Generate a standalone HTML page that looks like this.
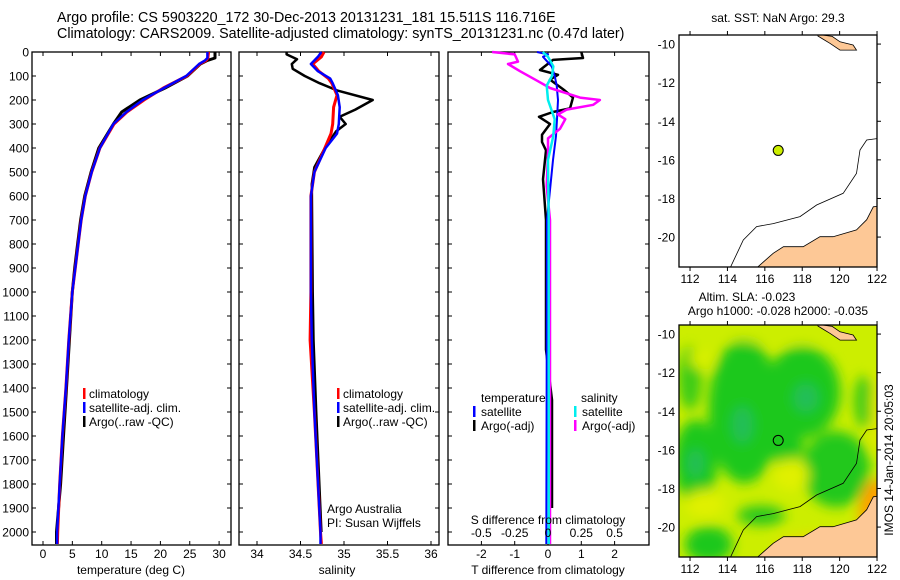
<!DOCTYPE html>
<html><head><meta charset="utf-8"><style>
html,body{margin:0;padding:0;background:#fff;}
svg{display:block;font-family:"Liberation Sans",sans-serif;}
</style></head><body>
<svg id="c" width="900" height="580" viewBox="0 0 900 580" xmlns="http://www.w3.org/2000/svg">
<defs>
<filter id="blur" x="-50%" y="-50%" width="200%" height="200%"><feGaussianBlur stdDeviation="6"/></filter>
<clipPath id="m1clip"><rect x="679" y="35" width="198" height="232"/></clipPath>
<clipPath id="m2clip"><rect x="679" y="325" width="198" height="232"/></clipPath>
</defs>
<text x="57" y="22" font-size="14.3">Argo profile: CS 5903220_172 30-Dec-2013 20131231_181 15.511S 116.716E</text>
<text x="57" y="38" font-size="14.3">Climatology: CARS2009. Satellite-adjusted climatology: synTS_20131231.nc (0.47d later)</text>
<g id="g"></g>
</svg>
<script>
// ---- data ----
const tDepth=[0,25,35,50,100,150,200,250,300,400,500,600,700,800,900,1000,1200,1400,1600,1800,2000,2050];
const tempClim=[28.2,28.1,27.8,26.7,24.5,20.5,17.2,14.3,12.1,9.7,8.3,7.2,6.5,6.0,5.5,5.0,4.4,3.9,3.3,2.85,2.5,2.45];
const tempSat=[28.0,28.0,27.6,26.6,24.4,20.6,17.0,14.2,12.0,9.7,8.3,7.2,6.5,6.0,5.5,5.0,4.4,3.9,3.3,2.85,2.4,2.4];
const tempArgo=[29.3,29.3,28.0,26.8,24.6,20.8,16.5,13.4,12.0,9.5,8.2,7.1,6.4,5.9,5.4,5.0,4.5,4.0,3.5,3.0,2.3,2.3];
const sDepthArgo=[0,10,30,50,70,100,130,160,200,240,270,300,330,400,480,550,1000,1200,1500,2000];
const salArgo=[34.34,34.34,34.46,34.40,34.41,34.55,34.72,34.92,35.33,35.13,34.95,35.02,34.91,34.78,34.66,34.63,34.64,34.65,34.68,34.74];
const sDepthClim=[0,20,50,80,110,130,180,230,300,340,400,500,600,1000,1200,1500,2000,2050];
const salSat=[34.74,34.70,34.62,34.70,34.84,34.87,34.93,34.95,34.94,34.92,34.79,34.66,34.62,34.62,34.63,34.66,34.73,34.73];
const salClim=[34.77,34.74,34.64,34.71,34.82,34.86,34.92,34.88,34.87,34.85,34.78,34.66,34.62,34.62,34.61,34.66,34.73,34.74];
const dDepthT=[0,25,33,75,95,115,160,190,235,250,270,300,345,375,410,530,700,1240,1450,1900];
const dTArgo=[1.0,1.05,0.15,-0.24,0.3,0.06,0.5,0.75,0.66,0.15,-0.27,0.06,-0.18,-0.18,-0.06,-0.15,-0.06,-0.06,0.12,0.12];
const dDepthS=[0,10,20,60,100,140,200,280,350,450,700,2050];
const dTSat=[-0.33,0,-0.15,0.11,0.2,0.26,0.3,0.27,0.24,0.15,-0.03,-0.05];
const dSSatDepth=[0,20,60,100,140,200,280,350,450,700,2050];
const dSSat=[-0.04,0,0.04,0.03,-0.01,0,0.05,0.04,0,0.005,0.005];
const dSArgoDepth=[0,10,40,50,80,120,150,190,200,220,240,260,280,320,360,420,560,700,2050];
const dSArgo=[-0.42,-0.25,-0.225,-0.3,-0.21,-0.08,0.015,0.24,0.39,0.34,0.14,0.075,0.13,0.09,0,0,-0.01,0.015,0.015];
const depthTicks=[0,100,200,300,400,500,600,700,800,900,1000,1100,1200,1300,1400,1500,1600,1700,1800,1900,2000];
const tempTicks=[0,5,10,15,20,25,30];
const salTicks=[34,34.5,35,35.5,36];
const dTTicks=[-2,-1,0,1,2];
const dSTicks=[-0.5,-0.25,0,0.25,0.5];
const lonTicks=[112,114,116,118,120,122];
const latTicks=[-10,-12,-14,-16,-18,-20];
const argoLon=116.716, argoLat=-15.511;
const coastS=[[115.56,-21.6],[116.45,-20.84],[117.0,-20.5],[118.05,-20.5],[118.95,-19.98],[119.65,-19.98],[120.9,-19.63],[121.45,-19.1],[121.8,-18.43],[122.1,-18.4],[122.1,-21.6]];
const coastN=[[118.84,-9.58],[119.13,-9.76],[119.48,-9.96],[120.02,-10.31],[120.9,-10.31],[120.72,-10.05],[120.02,-9.88],[119.6,-9.6],[118.84,-9.5]];
const isobath=[[114.14,-21.6],[114.85,-20.15],[115.56,-19.46],[116.45,-19.3],[117.88,-18.94],[118.77,-18.34],[120.19,-17.73],[120.9,-16.7],[121.09,-15.49],[121.45,-14.97],[122,-14.9]];

const NS='http://www.w3.org/2000/svg';
const G=document.getElementById('g');
function el(tag,attrs,parent){const e=document.createElementNS(NS,tag);for(const k in attrs)e.setAttribute(k,attrs[k]);(parent||G).appendChild(e);return e;}
function txt(x,y,s,size,anchor,parent){const t=el('text',{x:x,y:y,'font-size':size||12,'text-anchor':anchor||'start'},parent);t.textContent=s;return t;}

const TOP=52,BOT=545;
const yD=d=>TOP+d*0.24;
function panel(name,x0,x1,xs,ticks,tickFmt,showDepth){
  const g=el('g',{});
  
  
  el('rect',{x:x0,y:TOP,width:x1-x0,height:BOT-TOP,fill:'none',stroke:'#000','stroke-width':1.3},g);
  depthTicks.forEach(d=>{
    const y=yD(d);
    el('line',{x1:x0,x2:x0+4,y1:y,y2:y,stroke:'#000'},g);
    el('line',{x1:x1-4,x2:x1,y1:y,y2:y,stroke:'#000'},g);
    if(showDepth){const t=txt(29,y+4.5,String(d),12,'end',g);}
  });
  ticks.forEach(v=>{
    const x=xs(v);
    el('line',{x1:x,x2:x,y1:TOP,y2:TOP+4,stroke:'#000'},g);
    el('line',{x1:x,x2:x,y1:BOT-4,y2:BOT,stroke:'#000'},g);
    const t=txt(x,558,tickFmt(v),12,'middle',g);
    
    
  });
  return g;
}
function line(xs,depths,vals,color,w,name,parent){
  const pts=depths.map((d,i)=>xs(vals[i]).toFixed(1)+','+yD(d).toFixed(1)).join(' ');
  const p=el('polyline',{points:pts,fill:'none',stroke:color,'stroke-width':w,'stroke-linejoin':'round'},parent);
  
  
}
// Panel 1
const xT=v=>43+v*5.87;
const p1=panel('temperature-panel',32,231,xT,tempTicks,v=>String(v),true);
line(xT,tDepth,tempArgo,'#000',3,'temp-argo-line',p1);
line(xT,tDepth,tempClim,'#f00',3,'temp-climatology-line',p1);
line(xT,tDepth,tempSat,'#00f',2.5,'temp-satellite-line',p1);
txt(131,574,'temperature (deg C)',12,'middle',p1);
function legend3(x,parent,nm){
  const items=[['#f00','climatology'],['#00f','satellite-adj. clim.'],['#000','Argo(..raw -QC)']];
  items.forEach((it,i)=>{
    const y=398+i*14;
    el('rect',{x:x,y:y-10,width:2.5,height:11,fill:it[0]},parent);
    const t=txt(x+6,y,it[1],12,'start',parent);
    
    
  });
}
legend3(83,p1,'temp-legend');
// Panel 2
const xS=v=>257+(v-34)*87;
const p2=panel('salinity-panel',239,439,xS,salTicks,v=>String(v),false);
line(xS,sDepthArgo,salArgo,'#000',2.5,'sal-argo-line',p2);
line(xS,sDepthClim,salClim,'#f00',3,'sal-climatology-line',p2);
line(xS,sDepthClim,salSat,'#00f',2.5,'sal-satellite-line',p2);
txt(337,574,'salinity',12,'middle',p2);
legend3(337,p2,'sal-legend');
txt(327,513,'Argo Australia',12,'start',p2);
txt(327,527,'PI: Susan Wijffels',12,'start',p2);
// Panel 3
const xD=v=>548+v*33.3;
const xDS=v=>548+v*4*33.3;
const p3=panel('difference-panel',448,649,xD,dTTicks,v=>String(v),false);
line(xD,dDepthT,dTArgo,'#000',2.5,'dT-argo-line',p3);
line(xD,dDepthS,dTSat,'#00f',2,'dT-satellite-line',p3);
line(xDS,dSArgoDepth,dSArgo,'#f0f',2.5,'dS-argo-line',p3);
line(xDS,dSSatDepth,dSSat,'#0ee',2.5,'dS-satellite-line',p3);
dSTicks.forEach(v=>{const t=txt(xDS(v),537,String(v),12,'middle',p3);});
txt(548,524,'S difference from climatology',12,'middle',p3);
txt(548,574,'T difference from climatology',12,'middle',p3);
txt(481,402,'temperature',12,'start',p3);
txt(581,402,'salinity',12,'start',p3);
[['#00f','satellite',473],['#000','Argo(-adj)',473],['#0ee','satellite',574],['#f0f','Argo(-adj)',574]].forEach((it,i)=>{
  const y=416+(i%2)*14;
  el('rect',{x:it[2],y:y-10,width:2.5,height:11,fill:it[0]},p3);
  const t=txt(it[2]+8,y,it[1],12,'start',p3);
  
  
});
// Maps
function map(name,y0,clipId,isSla){
  const X=lon=>679+(lon-111.41)*18.7;
  const Y=lat=>y0+(-9.53-lat)*19.3;
  const g=el('g',{});
  
  
  const inner=el('g',{'clip-path':'url(#'+clipId+')'},g);
  if(isSla){
    el('rect',{x:679,y:y0,width:198,height:232,fill:'#ccee00'},inner);
    const bl=el('g',{filter:'url(#blur)'},inner);
    const blobs=[[112.3,-16.6,22,42,'#1ec81e'],[112.0,-12.3,12,32,'#3ccc18'],[114.9,-14.0,36,72,'#1ec81e'],[118.0,-13.0,38,46,'#1ec81e'],[119.8,-17.0,34,38,'#24c81e'],[113.0,-20.9,24,18,'#1ec81e'],[115.8,-19.4,24,10,'#2cc81e'],[117.2,-15.8,16,24,'#1ec81e'],[121.3,-13.5,10,26,'#3ccc18']];
    blobs.forEach(b=>el('ellipse',{cx:X(b[0]),cy:Y(b[1]),rx:b[2],ry:b[3],fill:b[4]},bl));
    [[118.2,-13.3,12,14],[112.3,-16.7,8,14],[114.8,-14.7,10,18]].forEach(b=>el('ellipse',{cx:X(b[0]),cy:Y(b[1]),rx:b[2],ry:b[3],fill:'#22bb66',opacity:0.8},bl));
    [[117.4,-17.3,18,16,'#e0f000'],[112.8,-18.8,20,14,'#e0f000'],[117,-10.0,60,9,'#ccee00'],[112.6,-11.3,12,10,'#d8f000']].forEach(b=>el('ellipse',{cx:X(b[0]),cy:Y(b[1]),rx:b[2],ry:b[3],fill:b[4]},bl));
    [[121.9,-19.4,16,36,'#ffa000'],[119,-21,45,12,'#f0d800'],[122,-14,6,40,'#e8e800']].forEach(b=>el('ellipse',{cx:X(b[0]),cy:Y(b[1]),rx:b[2],ry:b[3],fill:b[4]},bl));
  }
  const poly=a=>a.map(p=>X(p[0]).toFixed(1)+','+Y(p[1]).toFixed(1)).join(' ');
  el('polygon',{points:poly(coastS),fill:'#fdc896',stroke:'#000','stroke-width':0.8},inner);
  el('polygon',{points:poly(coastN),fill:'#fdc896',stroke:'#000','stroke-width':0.8},inner);
  el('polyline',{points:poly(isobath),fill:'none',stroke:'#000','stroke-width':0.8},inner);
  const pt=el('circle',{cx:X(argoLon),cy:Y(argoLat),r:5,fill:isSla?'none':'#ccee00',stroke:'#000','stroke-width':1},g);
  
  
  el('rect',{x:679,y:y0,width:198,height:232,fill:'none',stroke:'#000','stroke-width':1.3},g);
  lonTicks.forEach(v=>{const x=X(v);el('line',{x1:x,x2:x,y1:y0,y2:y0-4,stroke:'#000'},g);el('line',{x1:x,x2:x,y1:y0+232,y2:y0+236,stroke:'#000'},g);
    const t=txt(x,y0+248,String(v),12,'middle',g);});
  latTicks.forEach(v=>{const y=Y(v);el('line',{x1:877,x2:881,y1:y,y2:y,stroke:'#000'},g);
    const t=txt(675,y+4.5,String(v),12,'end',g);});
  return g;
}
map('sst-map',35,'m1clip',false);
txt(778,22,'sat. SST: NaN Argo: 29.3',12,'middle');
map('sla-map',325,'m2clip',true);
txt(747,301,'Altim. SLA: -0.023',12,'middle');
txt(778,315,'Argo h1000: -0.028 h2000: -0.035',12,'middle');
const ts=txt(0,0,'IMOS 14-Jan-2014 20:05:03',12,'middle');
ts.setAttribute('transform','translate(893,460) rotate(-90)');


</script>
</body></html>
